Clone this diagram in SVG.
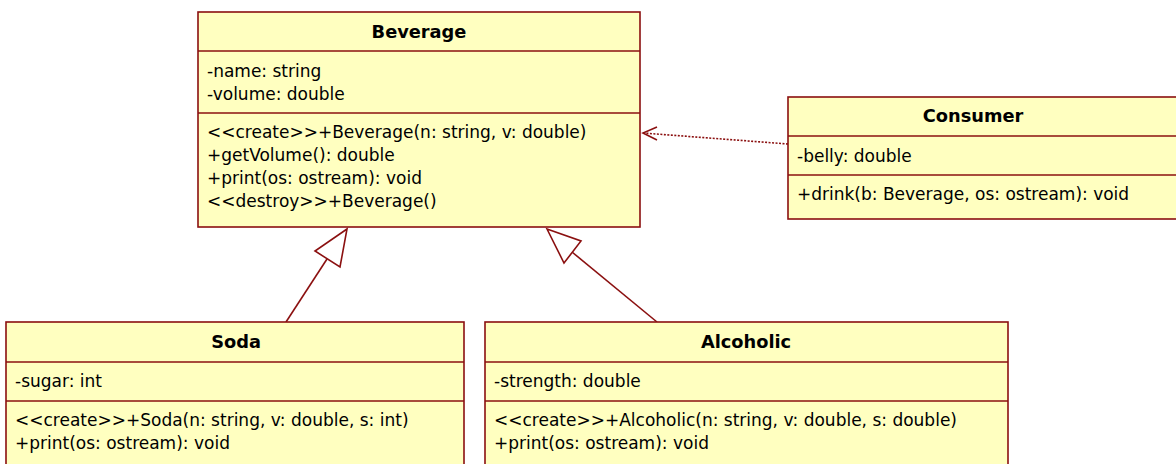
<svg xmlns="http://www.w3.org/2000/svg" width="1176" height="464" viewBox="0 0 1176 464">
<style>
.box{fill:#FFFFC0;stroke:#8B1010;stroke-width:1.6}
.sep{stroke:#8B1010;stroke-width:1.6}
.t{font-family:"DejaVu Sans",Verdana,sans-serif;font-size:17px;fill:#000}
.h{font-family:"DejaVu Sans",Verdana,sans-serif;font-size:17.8px;font-weight:bold;fill:#000;text-anchor:middle}
.con{stroke:#8B1010;stroke-width:1.6;fill:none}
.tri{stroke:#8B1010;stroke-width:1.6;fill:#fff}
</style>
<rect width="1176" height="464" fill="#fff"/>
<g id="connectors">
<path class="con" d="M788,144 L643,133" stroke-dasharray="2,1.5"/>
<path class="con" d="M657,127 L643,133 L657,140"/>
<path class="con" d="M286,322 L327,259"/>
<polygon class="tri" points="347,229 315,251 340,267"/>
<path class="con" d="M657,322 L572,252"/>
<polygon class="tri" points="547,229 581,241 564,263"/>
</g>
<g id="beverage">
<rect class="box" x="198" y="12" width="442" height="215"/>
<line class="sep" x1="198" y1="51" x2="640" y2="51"/>
<line class="sep" x1="198" y1="113" x2="640" y2="113"/>
<text class="h" x="419" y="38">Beverage</text>
<text class="t" x="207" y="77">-name: string</text>
<text class="t" x="207" y="100">-volume: double</text>
<text class="t" x="207" y="138">&lt;&lt;create&gt;&gt;+Beverage(n: string, v: double)</text>
<text class="t" x="207" y="161">+getVolume(): double</text>
<text class="t" x="207" y="184">+print(os: ostream): void</text>
<text class="t" x="207" y="207">&lt;&lt;destroy&gt;&gt;+Beverage()</text>
</g>
<g id="consumer">
<rect class="box" x="788" y="97" width="400" height="122"/>
<line class="sep" x1="788" y1="136" x2="1176" y2="136"/>
<line class="sep" x1="788" y1="175" x2="1176" y2="175"/>
<text class="h" x="973" y="122">Consumer</text>
<text class="t" x="797" y="162">-belly: double</text>
<text class="t" x="797" y="200">+drink(b: Beverage, os: ostream): void</text>
</g>
<g id="soda">
<rect class="box" x="6" y="322" width="458" height="160"/>
<line class="sep" x1="6" y1="362" x2="464" y2="362"/>
<line class="sep" x1="6" y1="401" x2="464" y2="401"/>
<text class="h" x="236" y="348">Soda</text>
<text class="t" x="15" y="387">-sugar: int</text>
<text class="t" x="15" y="426">&lt;&lt;create&gt;&gt;+Soda(n: string, v: double, s: int)</text>
<text class="t" x="15" y="449">+print(os: ostream): void</text>
</g>
<g id="alcoholic">
<rect class="box" x="485" y="322" width="523" height="160"/>
<line class="sep" x1="485" y1="362" x2="1008" y2="362"/>
<line class="sep" x1="485" y1="401" x2="1008" y2="401"/>
<text class="h" x="746" y="348">Alcoholic</text>
<text class="t" x="494" y="387">-strength: double</text>
<text class="t" x="494" y="426">&lt;&lt;create&gt;&gt;+Alcoholic(n: string, v: double, s: double)</text>
<text class="t" x="494" y="449">+print(os: ostream): void</text>
</g>
</svg>
